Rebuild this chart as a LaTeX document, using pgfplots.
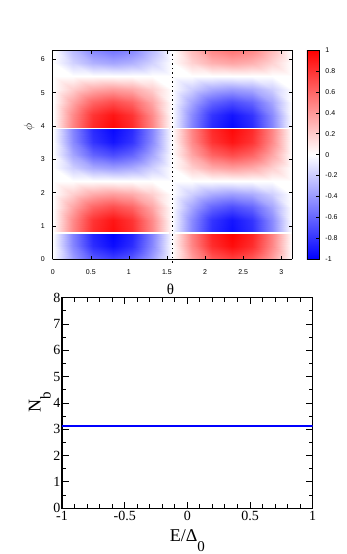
\documentclass[border=0pt]{standalone}
\usepackage{fontspec}
\setmainfont{Liberation Serif}
\newfontfamily\gpfont{Liberation Sans}
\usepackage{pgfplots}
\usepackage{pgfplotstable}
\pgfplotsset{compat=1.18}

% phi from 0 to pi/4
\pgfplotstableread{
t p f
0 0 0
0.2618 0 -0.375
0.5236 0 -0.65
0.7854 0 -0.75
1.0472 0 -0.65
1.3090 0 -0.375
1.5708 0 0
1.8326 0 0.375
2.0944 0 0.65
2.3562 0 0.75
2.6180 0 0.65
2.8798 0 0.375
3.1416 0 0
0 0.3927 0
0.2618 0.3927 -0.475
0.5236 0.3927 -0.823
0.7854 0.3927 -0.95
1.0472 0.3927 -0.823
1.3090 0.3927 -0.475
1.5708 0.3927 0
1.8326 0.3927 0.475
2.0944 0.3927 0.823
2.3562 0.3927 0.95
2.6180 0.3927 0.823
2.8798 0.3927 0.475
3.1416 0.3927 0
0 0.7854 0
0.2618 0.7854 -0.5
0.5236 0.7854 -0.866
0.7854 0.7854 -1
1.0472 0.7854 -0.866
1.3090 0.7854 -0.5
1.5708 0.7854 0
1.8326 0.7854 0.5
2.0944 0.7854 0.866
2.3562 0.7854 1
2.6180 0.7854 0.866
2.8798 0.7854 0.5
3.1416 0.7854 0
}\bandA

% phi from pi/4 to 5pi/4
\pgfplotstableread{
t p f
0 0.7854 0
0.2618 0.7854 0.475
0.5236 0.7854 0.823
0.7854 0.7854 0.95
1.0472 0.7854 0.823
1.3090 0.7854 0.475
1.5708 0.7854 0
1.8326 0.7854 -0.475
2.0944 0.7854 -0.823
2.3562 0.7854 -0.95
2.6180 0.7854 -0.823
2.8798 0.7854 -0.475
3.1416 0.7854 0
0 1.1781 0
0.2618 1.1781 0.46
0.5236 1.1781 0.797
0.7854 1.1781 0.92
1.0472 1.1781 0.797
1.3090 1.1781 0.46
1.5708 1.1781 0
1.8326 1.1781 -0.46
2.0944 1.1781 -0.797
2.3562 1.1781 -0.92
2.6180 1.1781 -0.797
2.8798 1.1781 -0.46
3.1416 1.1781 0
0 1.5708 0
0.2618 1.5708 0.35
0.5236 1.5708 0.606
0.7854 1.5708 0.7
1.0472 1.5708 0.606
1.3090 1.5708 0.35
1.5708 1.5708 0
1.8326 1.5708 -0.35
2.0944 1.5708 -0.606
2.3562 1.5708 -0.7
2.6180 1.5708 -0.606
2.8798 1.5708 -0.35
3.1416 1.5708 0
0 1.9635 0
0.2618 1.9635 0.19
0.5236 1.9635 0.329
0.7854 1.9635 0.38
1.0472 1.9635 0.329
1.3090 1.9635 0.19
1.5708 1.9635 0
1.8326 1.9635 -0.19
2.0944 1.9635 -0.329
2.3562 1.9635 -0.38
2.6180 1.9635 -0.329
2.8798 1.9635 -0.19
3.1416 1.9635 0
0 2.3562 0
0.2618 2.3562 0
0.5236 2.3562 0
0.7854 2.3562 0
1.0472 2.3562 0
1.3090 2.3562 0
1.5708 2.3562 0
1.8326 2.3562 0
2.0944 2.3562 0
2.3562 2.3562 0
2.6180 2.3562 0
2.8798 2.3562 0
3.1416 2.3562 0
0 2.7489 0
0.2618 2.7489 -0.19
0.5236 2.7489 -0.329
0.7854 2.7489 -0.38
1.0472 2.7489 -0.329
1.3090 2.7489 -0.19
1.5708 2.7489 0
1.8326 2.7489 0.19
2.0944 2.7489 0.329
2.3562 2.7489 0.38
2.6180 2.7489 0.329
2.8798 2.7489 0.19
3.1416 2.7489 0
0 3.1416 0
0.2618 3.1416 -0.35
0.5236 3.1416 -0.606
0.7854 3.1416 -0.7
1.0472 3.1416 -0.606
1.3090 3.1416 -0.35
1.5708 3.1416 0
1.8326 3.1416 0.35
2.0944 3.1416 0.606
2.3562 3.1416 0.7
2.6180 3.1416 0.606
2.8798 3.1416 0.35
3.1416 3.1416 0
0 3.5343 0
0.2618 3.5343 -0.46
0.5236 3.5343 -0.797
0.7854 3.5343 -0.92
1.0472 3.5343 -0.797
1.3090 3.5343 -0.46
1.5708 3.5343 0
1.8326 3.5343 0.46
2.0944 3.5343 0.797
2.3562 3.5343 0.92
2.6180 3.5343 0.797
2.8798 3.5343 0.46
3.1416 3.5343 0
0 3.9270 0
0.2618 3.9270 -0.485
0.5236 3.9270 -0.84
0.7854 3.9270 -0.97
1.0472 3.9270 -0.84
1.3090 3.9270 -0.485
1.5708 3.9270 0
1.8326 3.9270 0.485
2.0944 3.9270 0.84
2.3562 3.9270 0.97
2.6180 3.9270 0.84
2.8798 3.9270 0.485
3.1416 3.9270 0
}\bandB

% phi from 5pi/4 to 2pi
\pgfplotstableread{
t p f
0 3.9270 0
0.2618 3.9270 0.485
0.5236 3.9270 0.84
0.7854 3.9270 0.97
1.0472 3.9270 0.84
1.3090 3.9270 0.485
1.5708 3.9270 0
1.8326 3.9270 -0.485
2.0944 3.9270 -0.84
2.3562 3.9270 -0.97
2.6180 3.9270 -0.84
2.8798 3.9270 -0.485
3.1416 3.9270 0
0 4.3197 0
0.2618 4.3197 0.46
0.5236 4.3197 0.797
0.7854 4.3197 0.92
1.0472 4.3197 0.797
1.3090 4.3197 0.46
1.5708 4.3197 0
1.8326 4.3197 -0.46
2.0944 4.3197 -0.797
2.3562 4.3197 -0.92
2.6180 4.3197 -0.797
2.8798 4.3197 -0.46
3.1416 4.3197 0
0 4.7124 0
0.2618 4.7124 0.35
0.5236 4.7124 0.606
0.7854 4.7124 0.7
1.0472 4.7124 0.606
1.3090 4.7124 0.35
1.5708 4.7124 0
1.8326 4.7124 -0.35
2.0944 4.7124 -0.606
2.3562 4.7124 -0.7
2.6180 4.7124 -0.606
2.8798 4.7124 -0.35
3.1416 4.7124 0
0 5.1051 0
0.2618 5.1051 0.19
0.5236 5.1051 0.329
0.7854 5.1051 0.38
1.0472 5.1051 0.329
1.3090 5.1051 0.19
1.5708 5.1051 0
1.8326 5.1051 -0.19
2.0944 5.1051 -0.329
2.3562 5.1051 -0.38
2.6180 5.1051 -0.329
2.8798 5.1051 -0.19
3.1416 5.1051 0
0 5.4978 0
0.2618 5.4978 0
0.5236 5.4978 0
0.7854 5.4978 0
1.0472 5.4978 0
1.3090 5.4978 0
1.5708 5.4978 0
1.8326 5.4978 0
2.0944 5.4978 0
2.3562 5.4978 0
2.6180 5.4978 0
2.8798 5.4978 0
3.1416 5.4978 0
0 5.8905 0
0.2618 5.8905 -0.175
0.5236 5.8905 -0.303
0.7854 5.8905 -0.35
1.0472 5.8905 -0.303
1.3090 5.8905 -0.175
1.5708 5.8905 0
1.8326 5.8905 0.175
2.0944 5.8905 0.303
2.3562 5.8905 0.35
2.6180 5.8905 0.303
2.8798 5.8905 0.175
3.1416 5.8905 0
0 6.2832 0
0.2618 6.2832 -0.275
0.5236 6.2832 -0.476
0.7854 6.2832 -0.55
1.0472 6.2832 -0.476
1.3090 6.2832 -0.275
1.5708 6.2832 0
1.8326 6.2832 0.275
2.0944 6.2832 0.476
2.3562 6.2832 0.55
2.6180 6.2832 0.476
2.8798 6.2832 0.275
3.1416 6.2832 0
}\bandC

\begin{document}
\begin{tikzpicture}
\path[use as bounding box] (0pt,0pt) rectangle (346pt,554pt);

% heat map
\begin{axis}[
  at={(52.7pt,294.7pt)}, anchor=south west, scale only axis,
  width=239.3pt, height=209.3pt,
  view={0}{90},
  xmin=0, xmax=3.1416, ymin=0, ymax=6.2832,
  xtick={0,0.5,1,1.5,2,2.5,3}, ytick={0,1,2,3,4,5,6}, ztick=\empty,
  tick align=inside, tick pos=both, major tick length=3.5pt,
  axis line style={line width=0.6pt},
  tick style={black, line width=0.5pt},
  ticklabel style={font=\gpfont\fontsize{7}{8}\selectfont},
  /pgf/number format/assume math mode=true,
  xticklabel style={yshift=-6.5pt},
  yticklabel style={xshift=-4.4pt},
  colormap={bwr}{rgb255=(0,0,255) rgb255=(255,255,255) rgb255=(255,0,0)},
  point meta min=-1, point meta max=1,
  colorbar,
  colorbar style={
    at={(parent axis.south east)}, anchor=south west, xshift=6.3pt,
    width=12.4pt,
    ytick={-1,-0.8,-0.6,-0.4,-0.2,0,0.2,0.4,0.6,0.8,1},
    ytick pos=right, yticklabel pos=right,
    tick align=inside, major tick length=3pt,
    axis line style={line width=0.6pt},
    yticklabel style={xshift=2.7pt, font=\gpfont\fontsize{7}{8}\selectfont},
    /pgf/number format/assume math mode=true,
  },
  clip=false,
]
\addplot3[surf, shader=interp, mesh/cols=13, point meta=explicit]
  table[x=t, y=p, z=f, meta=f] {\bandA};
\addplot3[surf, shader=interp, mesh/cols=13, point meta=explicit]
  table[x=t, y=p, z=f, meta=f] {\bandB};
\addplot3[surf, shader=interp, mesh/cols=13, point meta=explicit]
  table[x=t, y=p, z=f, meta=f] {\bandC};
\addplot3[white, line width=1.8pt] coordinates {(0,0.7854,0) (1.527,0.7854,0)};
\addplot3[white, line width=1.8pt] coordinates {(1.605,0.7854,0) (3.1416,0.7854,0)};
\addplot3[white, line width=1.8pt] coordinates {(0,3.927,0) (1.527,3.927,0)};
\addplot3[white, line width=1.8pt] coordinates {(1.605,3.927,0) (3.1416,3.927,0)};
\addplot3[black, line width=1.3pt, dash pattern=on 1.3pt off 3.2pt]
  coordinates {(1.5708,-0.1,0) (1.5708,6.2,0)};
\node[rotate=90] at (axis description cs:-0.099,0.63) {\fontsize{13}{13}\selectfont$\phi$};
\node[anchor=base] at (axis description cs:0.492,-0.166) {\fontsize{15}{15}\selectfont θ};
\end{axis}

% N_b versus energy
\begin{axis}[
  at={(62pt,45.7pt)}, anchor=south west, scale only axis,
  width=250.7pt, height=210.6pt,
  xmin=-1, xmax=1, ymin=0, ymax=8,
  xtick={-1,-0.5,0,0.5,1}, ytick={0,1,2,3,4,5,6,7,8},
  minor x tick num=4, minor y tick num=1,
  tick align=inside, tick pos=both,
  major tick length=6.5pt, minor tick length=4pt,
  axis line style={line width=1.2pt},
  tick style={black, line width=1pt},
  ticklabel style={font=\fontsize{14}{14}\selectfont},
  /pgf/number format/assume math mode=true,
  yticklabel style={inner xsep=1.5pt},
  xticklabel style={inner ysep=3pt},
  clip mode=individual,
]
\addplot[blue, line width=2.2pt] coordinates {(-1,3.14) (1,3.14)};
\node[anchor=base] at (axis description cs:0.5,-0.159)
  {\fontsize{18}{18}\selectfont E/Δ\raisebox{-10pt}{\fontsize{15}{15}\selectfont 0}};
\node[rotate=90, anchor=base] at (axis description cs:-0.085,0.505)
  {\fontsize{18}{18}\selectfont N\raisebox{-10pt}{\fontsize{15}{15}\selectfont b}};
\end{axis}
\end{tikzpicture}
\end{document}
